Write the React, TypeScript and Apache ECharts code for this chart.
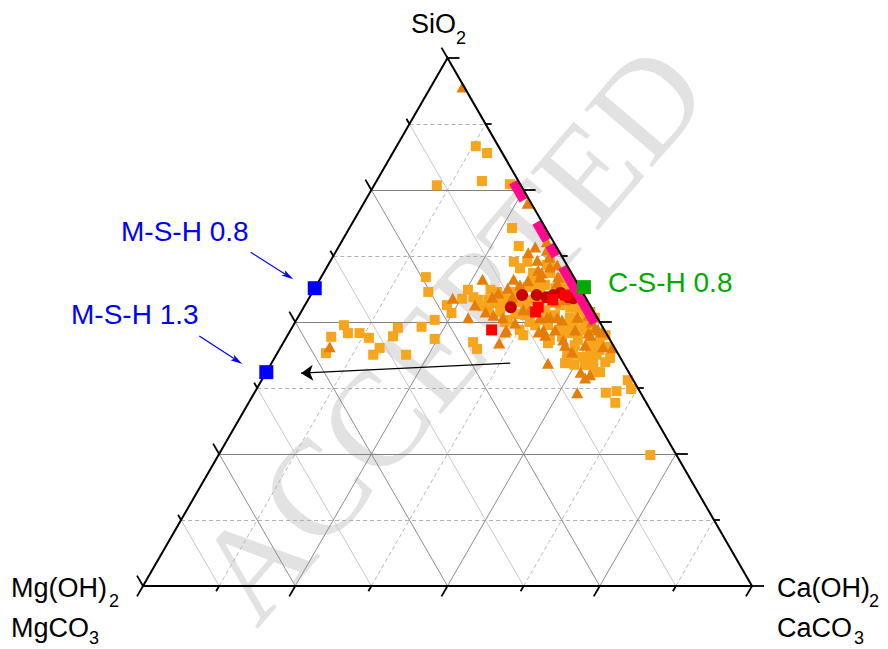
import React, { useEffect, useRef } from "react";
import * as echarts from "echarts";

// Compositions in % : [SiO2, CaO]  (MgO is the balance to 100)
const orangeSquares: number[][] = [
  [83.3, 13.0], [82.0, 15.5], [75.9, 10.3], [76.7, 17.3], [76.1, 22.2], [67.8, 26.7], [64.4, 29.5], [61.4, 30.2],
  [58.5, 17.2], [55.7, 19.0], [53.2, 23.3], [50.4, 22.7], [49.4, 8.3], [47.9, 9.7], [47.9, 11.6], [47.0, 13.6], [47.2, 7.3],
  [48.9, 17.4], [47.3, 17.4], [49.1, 21.2], [46.8, 24.5], [45.1, 16.3], [43.8, 15.9], [43.8, 21.3], [44.1, 8.0],
  [56.1, 25.3], [54.7, 26.9], [54.4, 25.2], [51.7, 24.8], [46.2, 31.1], [44.9, 32.4],
  [56.1, 29.0], [55.7, 30.3], [54.9, 31.9], [54.2, 29.6], [53.6, 31.0], [53.0, 32.4], [54.2, 33.2], [53.8, 34.7],
  [53.2, 36.1], [54.2, 36.4], [53.6, 38.4], [51.9, 32.7], [51.5, 35.4], [51.3, 37.1], [52.3, 39.9], [53.0, 29.3],
  [54.2, 27.9], [56.1, 33.9], [56.6, 34.9], [58.3, 34.9], [59.3, 37.2], [57.0, 37.5], [56.4, 39.5], [60.2, 31.8],
  [61.4, 32.4], [48.5, 37.6],
  [53.2, 41.9], [52.7, 43.8], [52.3, 45.6], [51.9, 47.5], [50.4, 45.7], [50.0, 47.6], [50.8, 48.8], [49.4, 44.6],
  [48.5, 47.5], [47.9, 45.9], [49.1, 46.0], [48.5, 48.6], [45.6, 51.1], [46.2, 51.9], [45.3, 53.5], [44.1, 47.6],
  [43.8, 48.7], [43.4, 50.5], [43.8, 52.6], [46.6, 43.5], [47.2, 45.2], [47.5, 38.7], [46.0, 43.5], [42.2, 48.2],
  [43.4, 51.2], [41.9, 52.2], [42.2, 52.8], [40.5, 54.0], [43.2, 55.1], [39.0, 60.1], [37.3, 61.5], [36.6, 57.7],
  [36.9, 59.3], [34.7, 60.2], [24.8, 70.9], [43.8, 51.5], [41.5, 53.2], [41.9, 51.6], [42.8, 48.2], [54.2, 44.7],
  [50.4, 40.5], [49.4, 39.7], [51.3, 42.0], [50.4, 34.7], [59.3, 34.4], [61.4, 36.1], [58.3, 39.4], [57.0, 41.6],
  [56.1, 37.2], [45.6, 48.1], [47.5, 52.2], [44.7, 52.6],
  [53.2, 44.3], [51.3, 47.0], [50.8, 44.7], [48.5, 44.2], [49.4, 41.8], [50.0, 38.5], [50.0, 34.4], [52.3, 30.6],
  [54.2, 32.3], [55.7, 33.2], [57.0, 35.9], [57.0, 40.0], [60.8, 35.9], [47.5, 51.3], [45.6, 50.6], [46.6, 48.1],
  [42.4, 54.7], [40.5, 54.8], [41.9, 49.9],
];

const triangles: number[][] = [
  [94.5, 5.2], [72.5, 26.9], [64.2, 32.3], [65.2, 33.7], [63.1, 31.7], [63.6, 34.5], [62.3, 35.6], [58.1, 26.7],
  [58.1, 31.8], [59.8, 35.0], [60.8, 37.6], [58.5, 38.9], [57.8, 34.3], [58.5, 36.0], [54.5, 23.6], [50.8, 28.0],
  [51.9, 30.3], [54.7, 30.0], [55.5, 30.6], [56.4, 31.7], [48.1, 35.4], [46.0, 35.5], [49.8, 36.2], [48.1, 40.9],
  [50.8, 39.8], [50.9, 41.4], [50.4, 43.6], [45.6, 46.5], [44.3, 48.3], [47.9, 49.2], [45.3, 52.9], [45.1, 54.5],
  [42.2, 45.4], [40.5, 51.6], [39.4, 52.9], [40.0, 53.4], [36.6, 53.0], [47.5, 49.7], [45.3, 8.0], [59.3, 35.8],
  [60.4, 36.6], [61.7, 33.9], [57.4, 39.3], [50.9, 40.9], [50.8, 42.6], [50.9, 45.9], [51.3, 47.5], [48.9, 49.8],
  [48.1, 51.3], [48.5, 41.5], [46.6, 45.7], [51.3, 31.9], [48.5, 35.4], [48.5, 50.5], [57.0, 33.4], [54.2, 42.2],
  [53.2, 27.9], [52.3, 37.4], [54.7, 33.3], [48.5, 43.4],
  [48.5, 46.7], [45.6, 49.8], [53.8, 40.8], [52.3, 36.3], [50.8, 33.7], [47.5, 42.3], [50.0, 48.7],
];

const redCircles: number[][] = [
  [55.1, 34.7], [55.1, 37.1], [54.7, 38.9], [55.1, 39.8], [52.8, 34.0], [55.5, 40.8], [54.7, 42.5], [54.5, 43.4],
];

const redSquares: number[][] = [
  [55.1, 41.8], [54.2, 40.2], [52.8, 38.5], [51.9, 38.5], [48.5, 33.0],
];

// C-S-H bands along the MgO-free edge: SiO2 range (%) each
const pinkBands: number[][] = [
  [76.5, 73.1], [68.9, 65.5], [64.6, 62.5], [60.4, 49.8],
];
const pinkMgO = 0.9;

const mshPoints: number[][] = [[56.4, 0], [40.5, 0]]; // M-S-H 0.8, M-S-H 1.3
const cshPoints: number[][] = [[56.6, 44.1]]; // C-S-H 0.8
const trendArrow: number[][] = [[42.2, 39.2], [40.3, 5.8]];

const gridFractions = [0, 12.5, 25, 37.5, 50, 62.5, 75, 87.5, 100];

const H = Math.sqrt(3) / 2;
const PX = 609;
const X_MIN = -143 / PX;
const X_MAX = X_MIN + 888 / PX;
const PY = 528 / H;
const Y_MIN = -63 / PY;
const Y_MAX = Y_MIN + 649 / PY;

function tern(si: number, ca: number): number[] {
  return [ca / 100 + si / 200, (si / 100) * H];
}

const FONT = '"Liberation Sans", Arial, Helvetica, sans-serif';

function segSeries(segs: number[][][], style: any, z: number, extra: any = {}) {
  return {
    type: "lines",
    coordinateSystem: "cartesian2d",
    polyline: false,
    silent: true,
    z,
    symbol: ["none", "none"],
    lineStyle: { opacity: 1, curveness: 0, ...style },
    data: segs.map((c) => ({ coords: c })),
    animation: false,
    ...extra,
  };
}

function arrowGraphic(x1: number, y1: number, x2: number, y2: number, color: string) {
  const dx = x2 - x1, dy = y2 - y1;
  const L = Math.hypot(dx, dy);
  const ux = dx / L, uy = dy / L;
  const len = 12, hw = 3.2;
  const bx = x2 - ux * len, by = y2 - uy * len;
  return [
    { type: "line", z: 20, shape: { x1, y1, x2: bx + ux * 2, y2: by + uy * 2 }, style: { stroke: color, lineWidth: 1.2 } },
    {
      type: "polygon", z: 20,
      shape: { points: [[x2, y2], [bx - uy * hw, by + ux * hw], [bx + ux * 2.5, by + uy * 2.5], [bx + uy * hw, by - ux * hw]] },
      style: { fill: color },
    },
  ];
}

function txt(text: string, x: number, y: number, size: number, fill: string, align = "left", extra: any = {}) {
  return {
    type: "text", x, y, z: 20, silent: true,
    style: {
      text, fill, font: `${size}px ${FONT}`,
      textAlign: align, align, textVerticalAlign: "middle", verticalAlign: "middle",
    },
    ...extra,
  };
}

// watermark letters laid out one by one along a rotated baseline
function watermark() {
  const letters = "ACCEPTED".split("");
  const widths = [0.722, 0.667, 0.667, 0.611, 0.556, 0.611, 0.611, 0.722];
  const size = 136;
  const rot = 0.864;
  const ux = Math.cos(rot), uy = -Math.sin(rot);
  let cum = 0;
  const out: any[] = [];
  letters.forEach((ch, i) => {
    const d = (cum + widths[i] / 2) * size;
    cum += widths[i];
    out.push({
      type: "text", x: 222 + ux * d, y: 600 + uy * d, rotation: rot, z: -1, silent: true,
      style: {
        text: ch, fill: "#e2e2e2",
        font: `${size}px "Liberation Serif", "Times New Roman", serif`,
        textAlign: "center", align: "center", textVerticalAlign: "middle", verticalAlign: "middle",
      },
    });
  });
  return out;
}

export default function App() {
  const ref = useRef<HTMLDivElement>(null);
  useEffect(() => {
    if (!ref.current) return;
    const chart = echarts.init(ref.current, undefined, { renderer: "svg" });

    const siMaj: number[][][] = [], siMin: number[][][] = [];
    const caMaj: number[][][] = [], caMin: number[][][] = [];
    const mgMaj: number[][][] = [], mgMin: number[][][] = [];
    for (let k = 1; k < gridFractions.length - 1; k++) {
      const v = gridFractions[k];
      const major = k % 2 === 0;
      (major ? siMaj : siMin).push([tern(v, 0), tern(v, 100 - v)]);
      (major ? caMaj : caMin).push([tern(0, v), tern(100 - v, v)]);
      (major ? mgMaj : mgMin).push([tern(0, 100 - v), tern(100 - v, 0)]);
    }
    const ticks: number[][][] = [];
    gridFractions.forEach((v, k) => {
      const len = (k % 2 === 0 ? 12 : 6) / PX;
      const b = tern(0, v);
      ticks.push([b, [b[0] - 0.5 * len, b[1] - H * len]]);
      const r = tern(v, 100 - v);
      ticks.push([r, [r[0] + len, r[1]]]);
      const l = tern(v, 0);
      ticks.push([l, [l[0] - 0.5 * len, l[1] + H * len]]);
    });

    const edges = [[tern(0, 0), tern(0, 100), tern(100, 0), tern(0, 0)]];
    const pinkSegs = pinkBands.map(([a, b]) => [tern(a, 100 - a - pinkMgO), tern(b, 100 - b - pinkMgO)]);

    const scatter = (data: number[][], symbol: string, size: any, color: string, z: number) => ({
      type: "scatter", symbol, symbolSize: size, silent: true, z,
      itemStyle: { color, opacity: 1 },
      data: data.map((p) => tern(p[0], p[1])),
      animation: false,
    });

    const option: any = {
      animation: false,
      backgroundColor: "#ffffff",
      grid: { left: 0, right: 0, top: 0, bottom: 0 },
      xAxis: { type: "value", min: X_MIN, max: X_MAX, show: false },
      yAxis: { type: "value", min: Y_MIN, max: Y_MAX, show: false },
      series: [
        segSeries(mgMin, { color: "#c8c8c8", width: 1 }, 1),
        segSeries(caMin, { color: "#b8b8b8", width: 1, type: [4, 3] }, 1),
        segSeries(siMin, { color: "#b0b0b0", width: 1, type: [4, 3] }, 1),
        segSeries(mgMaj, { color: "#8c8c8c", width: 1 }, 1),
        segSeries(caMaj, { color: "#8c8c8c", width: 1 }, 1),
        segSeries(siMaj, { color: "#808080", width: 1 }, 1),
        scatter(orangeSquares, "rect", 10, "#f7a51d", 3),
        scatter(triangles, "triangle", [12, 11], "#e67d08", 3),
        scatter(redCircles, "circle", 12, "#c80000", 3),
        scatter(redSquares, "rect", 11, "#ff0000", 3),
        segSeries(pinkSegs, { color: "#ff0a8c", width: 10, cap: "butt" }, 4),
        {
          type: "lines", coordinateSystem: "cartesian2d", polyline: true, silent: true, z: 5,
          lineStyle: { color: "#000", width: 2, opacity: 1 },
          data: edges.map((c) => ({ coords: c })), animation: false,
        },
        segSeries(ticks, { color: "#000", width: 1.8 }, 5),
        segSeries([trendArrow.map((p) => tern(p[0], p[1]))], { color: "#000", width: 1.2 }, 5, {
          symbol: ["none", "arrow"], symbolSize: 12, itemStyle: { color: "#000" },
        }),
        scatter(mshPoints, "rect", 14, "#0000ff", 6),
        scatter(cshPoints, "rect", 14, "#00aa00", 6),
      ],
      graphic: [
        ...watermark(),
        txt("SiO", 411, 24, 27, "#000"),
        txt("2", 456, 38, 18, "#000"),
        txt("Ca(OH)", 777, 588, 27, "#000"),
        txt("2", 869, 601, 18, "#000"),
        txt("CaCO", 777, 628, 27, "#000"),
        txt("3", 854, 638, 18, "#000"),
        txt("Mg(OH)", 11, 588, 27, "#000"),
        txt("2", 109, 601, 18, "#000"),
        txt("MgCO", 11, 628, 27, "#000"),
        txt("3", 89, 638, 18, "#000"),
        txt("M-S-H 0.8", 121, 231, 28, "#0000ff"),
        txt("M-S-H 1.3", 71, 314, 28, "#0000ff"),
        txt("C-S-H 0.8", 608, 282, 28, "#00aa00"),
        ...arrowGraphic(250.7, 252.3, 293.3, 279.3, "#0000ff"),
        ...arrowGraphic(199.3, 336, 242.3, 364, "#0000ff"),
      ],
    };
    chart.setOption(option);
    return () => chart.dispose();
  }, []);
  return <div ref={ref} style={{ position: "absolute", left: 0, top: 0, width: 888, height: 649 }} />;
}
